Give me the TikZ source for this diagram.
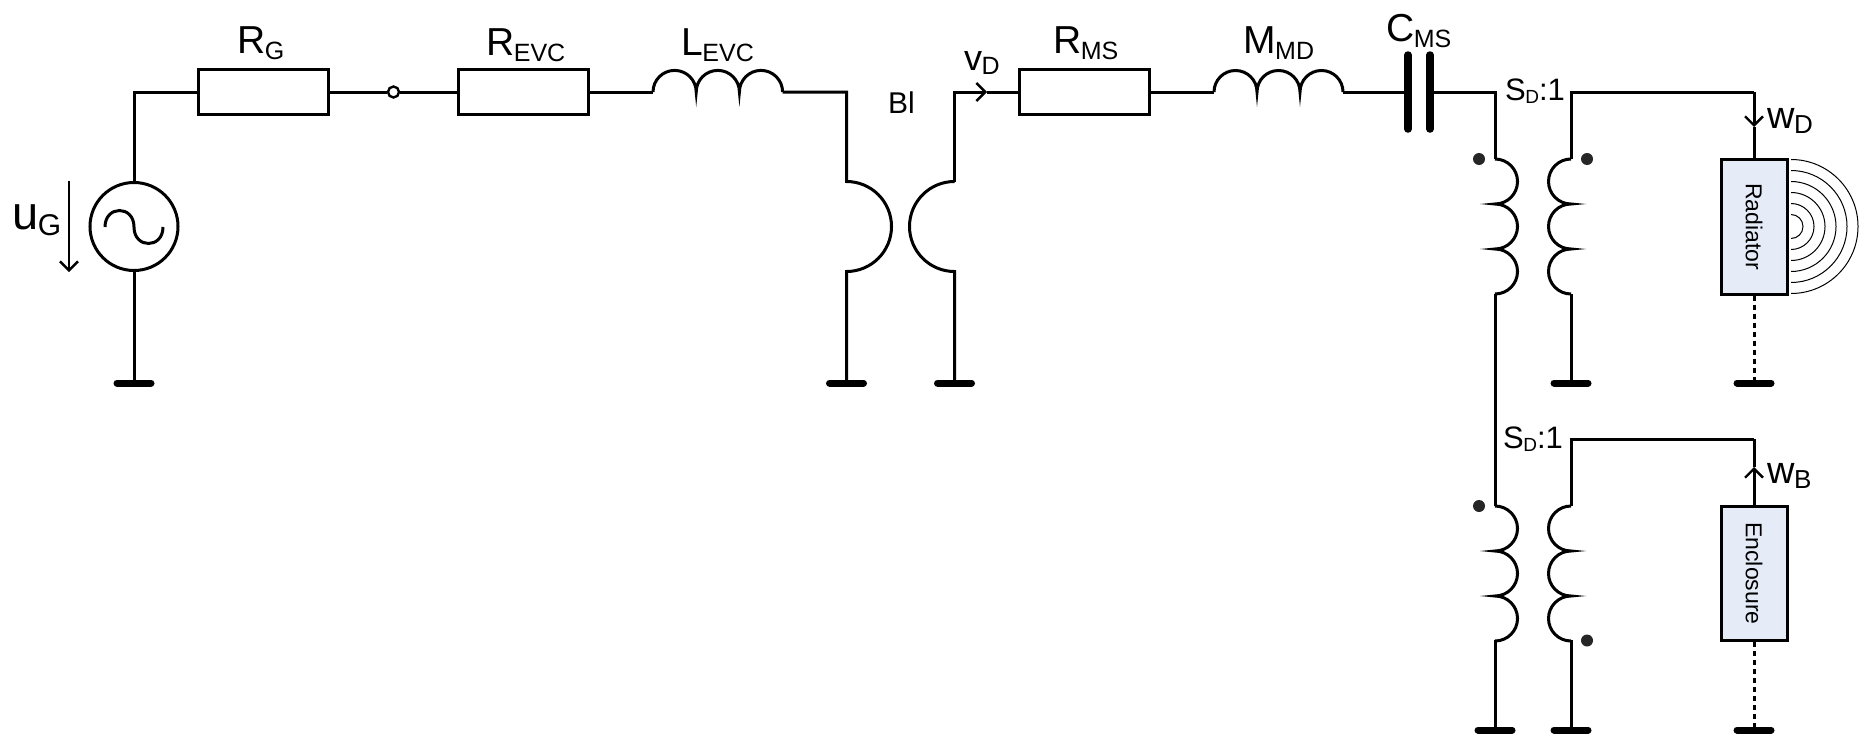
\documentclass[tikz,border=0pt]{standalone}
\usepackage{fontspec}
\setmainfont{Liberation Sans}
\usetikzlibrary{positioning, arrows.meta, calc}
\definecolor{boxblue}{HTML}{E6ECF7}
% main letter with its lowered index: sizes, drop, letter, index
\newcommand{\idx}[5]{\fontsize{#1}{#1}\selectfont #4\kern-0.5pt\raisebox{-#3pt}{\fontsize{#2}{#2}\selectfont #5}}

\begin{document}
\begin{tikzpicture}[
		x=1pt, y=-1pt,
		wire/.style={line width=3pt},
		res/.style={rectangle, draw, line width=3pt, inner sep=0pt, minimum width=130pt, minimum height=45pt},
		load/.style={rectangle, draw, line width=3pt, inner sep=0pt, fill=boxblue, minimum width=66pt, minimum height=135pt},
		src/.style={circle, draw, line width=3pt, inner sep=0pt, minimum size=88pt},
		term/.style={circle, draw, line width=2.4pt, fill=white, inner sep=0pt, minimum size=11pt},
		pt/.style={circle, fill=black!85, inner sep=0pt, minimum size=12pt},
		mylabel/.style={inner sep=0pt, anchor=base west},
		gnd/.style={line width=7pt, line cap=round},
		plate/.style={line width=7.5pt, line cap=round},
		wave/.style={line width=1pt},
		>={Straight Barb[length=9pt, width=18pt, line width=2.4pt]}
		]
		\useasboundingbox (0,0) rectangle (1859,736);
		
		% generator side
		\node[src] (ug) at (134, 226.5) {};
		\node[res] (rg) at (263.5, 92) {};
		\node[term] (t1) at (393.5, 92) {};
		\node[res] (revc) at (523.5, 92) {};
		\coordinate (c0) at (134, 92);
		\coordinate (g1) at (134, 383);
		\draw[wire] (ug.north) -- (c0) -- (rg.west);
		\draw[wire] (ug.south) -- (g1);
		\draw[wire] (rg.east) -- (t1.west);
		\draw[wire] (t1.east) -- (revc.west);
		\draw[wire] (105, 227) .. controls (105, 205) and (134, 205) .. (134, 227) .. controls (134, 249) and (163, 249) .. (163, 227);
		\draw[line width=2pt, ->] (69, 181) -- (69, 272);
		
		% voice coil inductance
		\coordinate (le1) at (653, 92);
		\coordinate (le2) at (782.5, 92);
		\draw[wire] (revc.east) -- (le1);
		\draw[wire] (le1) arc[start angle=180, end angle=0, radius=21.6pt] arc[start angle=180, end angle=0, radius=21.6pt] arc[start angle=180, end angle=0, radius=21.6pt];
		
		% BI coupling
		\coordinate (b1) at (846.5, 92);
		\coordinate (b2) at (846.5, 181.5);
		\coordinate (b3) at (846.5, 271.5);
		\coordinate (g2) at (846.5, 383);
		\coordinate (b4) at (954.5, 92);
		\coordinate (b5) at (954.5, 181.5);
		\coordinate (b6) at (954.5, 271.5);
		\coordinate (g3) at (954.5, 383);
		\draw[wire] (le2) -- (b1) -- (b2) arc[start angle=90, end angle=-90, radius=45pt] -- (g2);
		\draw[wire] (b5) arc[start angle=90, end angle=270, radius=45pt] -- (g3);
		\node[res, minimum width=129.5pt] (rms) at (1084.5, 92) {};
		\coordinate (va) at (987, 92);
		\draw[wire, ->] (b5) -- (b4) -- (va);
		\draw[wire] (va) -- (rms.west);
		
		% mechanical mass and compliance
		\coordinate (lm1) at (1214, 92);
		\coordinate (lm2) at (1343, 92);
		\draw[wire] (rms.east) -- (lm1);
		\draw[wire] (lm1) arc[start angle=180, end angle=0, radius=21.5pt] arc[start angle=180, end angle=0, radius=21.5pt] arc[start angle=180, end angle=0, radius=21.5pt];
		\coordinate (p1a) at (1408, 55);
		\coordinate (p1b) at (1408, 129);
		\coordinate (p2a) at (1430, 55);
		\coordinate (p2b) at (1430, 129);
		\draw[plate] (p1a) -- (p1b);
		\draw[plate] (p2a) -- (p2b);
		\draw[wire] (lm2) -- (1408, 92);
		\coordinate (c1) at (1495, 92);
		\coordinate (s1) at (1495, 159);
		\coordinate (s2) at (1495, 294);
		\coordinate (s3) at (1495, 506);
		\coordinate (s4) at (1495, 640);
		\coordinate (g4) at (1495, 730);
		\draw[wire] (1430, 92) -- (c1) -- (s1);
		\draw[wire] (s2) -- (s3);
		\draw[wire] (s4) -- (g4);
		
		% radiator branch
		\coordinate (c2) at (1571, 92);
		\coordinate (c3) at (1754, 92);
		\coordinate (s5) at (1571, 159);
		\coordinate (s6) at (1571, 294);
		\coordinate (g5) at (1571, 383);
		\coordinate (wa) at (1754, 127);
		\coordinate (g6) at (1754, 383);
		\node[load] (rad) at (1754, 226.5) {};
		\node[rotate=-90, inner sep=0pt, font=\fontsize{23}{23}\selectfont] (radtxt) at (1754, 226.5) {Radiator};
		\draw[wire] (s6) -- (g5);
		\draw[wire] (s5) -- (c2) -- (c3);
		\draw[wire, ->] (c3) -- (wa);
		\draw[wire] (wa) -- (rad.north);
		\draw[wire, dash pattern=on 5pt off 4pt] (rad.south) -- (g6);
		\coordinate (wc) at (1791, 226.5);
		\foreach \r in {12,23,34,45,56,67}
		\draw[wave] ($(wc)+(0,-\r)$) arc[start angle=90, end angle=-90, radius=\r pt];
		
		% enclosure branch
		\coordinate (c4) at (1571, 439);
		\coordinate (c5) at (1754, 439);
		\coordinate (s7) at (1571, 506);
		\coordinate (s8) at (1571, 640);
		\coordinate (g7) at (1571, 730);
		\coordinate (wb) at (1754, 467);
		\coordinate (g8) at (1754, 730);
		\node[load, minimum height=134pt] (enc) at (1754, 573.5) {};
		\node[rotate=-90, inner sep=0pt, font=\fontsize{23}{23}\selectfont] (enctxt) at (1754, 573.5) {Enclosure};
		\draw[wire] (s8) -- (g7);
		\draw[wire] (s7) -- (c4) -- (c5);
		\draw[wire, ->] (enc.north) -- (wb);
		\draw[wire] (wb) -- (c5);
		\draw[wire, dash pattern=on 5pt off 4pt] (enc.south) -- (g8);
		
		% transformer windings
		\foreach \a in {s1,s3}
		\draw[wire] (\a) arc[start angle=90, end angle=-90, radius=22.5pt] arc[start angle=90, end angle=-90, radius=22.5pt] arc[start angle=90, end angle=-90, radius=22.5pt];
		\foreach \a in {s5,s7}
		\draw[wire] (\a) arc[start angle=90, end angle=270, radius=22.5pt] arc[start angle=90, end angle=270, radius=22.5pt] arc[start angle=90, end angle=270, radius=22.5pt];
		\node[pt] (d1) at (1479, 159) {};
		\node[pt] (d2) at (1587, 159) {};
		\node[pt] (d3) at (1479, 506) {};
		\node[pt] (d4) at (1587, 640.5) {};
		
		% grounds
		\foreach \g in {g1,g2,g3,g4,g5,g6,g7,g8}
		\draw[gnd] ($(\g)+(-17,0)$) -- ($(\g)+(17,0)$);
		
		% labels
		\node[mylabel] (ltg) at (237, 53) {\idx{39}{25}{6}{R}{G}};
		\node[mylabel] (ltre) at (486, 55) {\idx{39}{25}{6}{R}{EVC}};
		\node[mylabel] (ltle) at (681, 55) {\idx{39}{25}{6}{L}{EVC}};
		\node[mylabel] (ltrm) at (1053, 53) {\idx{39}{25}{6}{R}{MS}};
		\node[mylabel] (ltmm) at (1243, 53) {\idx{39}{25}{6}{M}{MD}};
		\node[mylabel] (ltcm) at (1386, 41) {\idx{39}{25}{6}{C}{MS}};
		\node[mylabel] (ltu) at (12, 229) {\idx{47}{30}{6}{u}{G}};
		\node[mylabel] (ltv) at (964, 70) {\idx{36}{25}{4}{v}{D}};
		\node[mylabel] (ltbi) at (888, 113) {\fontsize{30}{30}\selectfont Bl};
		\node[mylabel] (lts1) at (1505, 100) {\idx{31}{19}{3}{S}{D}\fontsize{31}{31}\selectfont :1};
		\node[mylabel] (lts2) at (1503, 448) {\idx{31}{19}{3}{S}{D}\fontsize{31}{31}\selectfont :1};
		\node[mylabel] (ltwd) at (1767, 128) {\idx{38}{26}{5}{w}{D}};
		\node[mylabel] (ltwb) at (1767, 483) {\idx{38}{26}{5}{w}{B}};
	\end{tikzpicture}
\end{document}
